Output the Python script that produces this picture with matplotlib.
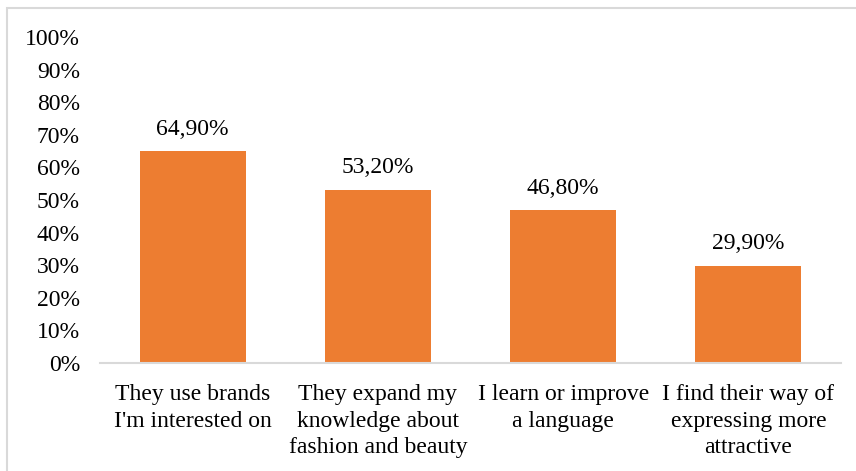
import matplotlib
matplotlib.use("Agg")
import matplotlib.pyplot as plt
from matplotlib.patches import Rectangle

categories = ["They use brands\nI'm interested on",
              "They expand my\nknowledge about\nfashion and beauty",
              "I learn or improve\na language",
              "I find their way of\nexpressing more\nattractive"]
values = [64.9, 53.2, 46.8, 29.9]
value_labels = ["64,90%", "53,20%", "46,80%", "29,90%"]
yticks = [0, 10, 20, 30, 40, 50, 60, 70, 80, 90, 100]
ytick_labels = [f"{v}%" for v in yticks]

plt.rcParams['font.family'] = ['Liberation Serif', 'DejaVu Serif']

W, H = 856, 471
fig = plt.figure(figsize=(W/100, H/100), dpi=100)
ax = fig.add_axes([100/W, 1 - 363/H, 741/W, 326/H])

x = list(range(len(categories)))
ax.bar(x, values, width=0.573, color="#ED7D31", zorder=2)
for xi, v, lab in zip(x, values, value_labels):
    ax.annotate(lab, (xi, v), xytext=(0, 8), textcoords="offset points",
                ha="center", va="bottom", fontsize=17, color="#000000")

ax.set_xlim(-0.5, 3.5)
ax.set_ylim(0, 100)
ax.set_yticks(yticks)
ax.set_yticklabels(ytick_labels, fontsize=17)
ax.set_xticks(x)
ax.set_xticklabels(categories, fontsize=17, linespacing=1.36, va="top")
ax.tick_params(axis="both", length=0, colors="#000000")
ax.tick_params(axis="x", pad=15)
ax.tick_params(axis="y", pad=14.4)
for s in ["top", "right", "left"]:
    ax.spines[s].set_visible(False)
ax.spines["bottom"].set_color("#D9D9D9")
ax.spines["bottom"].set_linewidth(1.5)

fig.patches.append(Rectangle((7/W, -0.1), 1.2, 1.1 - 8/H, transform=fig.transFigure,
                             fill=False, edgecolor="#D9D9D9", linewidth=1.5,
                             clip_on=False))

fig.savefig("out.png", dpi=100)
